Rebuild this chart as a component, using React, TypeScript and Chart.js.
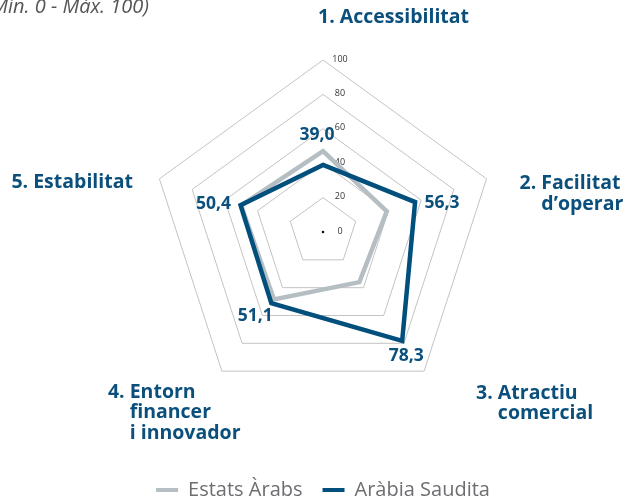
import React, { useEffect, useRef } from "react";
import { Chart, registerables } from "chart.js";

Chart.register(...registerables);

// ---- data ----
const categories = [
  "1. Accessibilitat",
  "2. Facilitat d’operar",
  "3. Atractiu comercial",
  "4. Entorn financer i innovador",
  "5. Estabilitat",
];
const categoryLines = [
  ["1. Accessibilitat"],
  ["2. Facilitat", "d’operar"],
  ["3. Atractiu", "comercial"],
  ["4. Entorn", "financer", "i innovador"],
  ["5. Estabilitat"],
];
const seriesNames = ["Estats Àrabs", "Aràbia Saudita"];
const estatsArabs = [47, 39, 36, 48.5, 50];
const arabiaSaudita = [39.0, 56.3, 78.3, 51.1, 50.4];
const valueLabels = ["39,0", "56,3", "78,3", "51,1", "50,4"];
const tickValues = [0, 20, 40, 60, 80, 100];
const subtitle = "(Mín. 0 - Máx. 100)";

// ---- styles ----
const DARK = "#004f7d";
const GRAY = "#b5bec3";
const LABEL_COLOR = "#0b4f7c";
const FONT = "'Open Sans', 'Noto Sans', sans-serif";

// offsets of category label (first line start, first line middle) from the axis vertex
const catOffsets = [
  [-5, -43],
  [33, 5],
  [52, 22],
  [-114, 21],
  [-148, 4],
];
// offsets of value labels from the data point
const valOffsets = [
  [-6, -30],
  [27, 1],
  [4, 15],
  [-16, 13],
  [-27, -1],
];

const overlay = {
  id: "overlay",
  beforeDatasetsDraw(chart: any) {
    const scale = chart.scales.r;
    const ctx = chart.ctx as CanvasRenderingContext2D;
    ctx.save();
    ctx.font = `9px ${FONT}`;
    ctx.fillStyle = "#333333";
    ctx.textAlign = "center";
    ctx.textBaseline = "middle";
    tickValues.forEach((v) => {
      const r = scale.getDistanceFromCenterForValue(v);
      ctx.fillText(String(v), scale.xCenter + 17, scale.yCenter - r - 1);
    });
    ctx.beginPath();
    ctx.fillStyle = "#111111";
    ctx.arc(scale.xCenter, scale.yCenter, 1.3, 0, Math.PI * 2);
    ctx.fill();
    ctx.restore();
  },
  afterDatasetsDraw(chart: any) {
    const scale = chart.scales.r;
    const ctx = chart.ctx as CanvasRenderingContext2D;
    ctx.save();
    // category labels with hanging indent
    ctx.font = `bold 19.5px ${FONT}`;
    ctx.fillStyle = LABEL_COLOR;
    ctx.textAlign = "left";
    ctx.textBaseline = "middle";
    categoryLines.forEach((lines, i) => {
      const p = scale.getPointPosition(i, scale.drawingArea);
      const x = p.x + catOffsets[i][0];
      const y = p.y + catOffsets[i][1];
      const prefix = lines[0].split(" ")[0] + " ";
      const indent = ctx.measureText(prefix).width;
      lines.forEach((line, j) => {
        ctx.fillText(line, j === 0 ? x : x + indent, y + j * 20.5);
      });
    });
    // value labels
    const meta = chart.getDatasetMeta(1);
    ctx.font = `bold 17.5px ${FONT}`;
    ctx.textAlign = "center";
    meta.data.forEach((el: any, i: number) => {
      ctx.fillText(valueLabels[i], el.x + valOffsets[i][0], el.y + valOffsets[i][1]);
    });
    // subtitle
    ctx.font = `italic 20px ${FONT}`;
    ctx.fillStyle = "#555555";
    ctx.textAlign = "right";
    ctx.textBaseline = "alphabetic";
    ctx.fillText(subtitle, 149, 13);
    ctx.restore();
  },
};

export default function App() {
  const ref = useRef<HTMLCanvasElement | null>(null);
  useEffect(() => {
    if (!ref.current) return;
    const chart = new Chart(ref.current, {
      type: "radar",
      data: {
        labels: categories,
        datasets: [
          {
            label: seriesNames[0],
            data: estatsArabs,
            borderColor: GRAY,
            backgroundColor: GRAY,
            borderWidth: 4.5,
            pointRadius: 0,
            pointHoverRadius: 0,
            fill: false,
            order: 2,
          },
          {
            label: seriesNames[1],
            data: arabiaSaudita,
            borderColor: DARK,
            backgroundColor: DARK,
            borderWidth: 4.5,
            pointRadius: 0,
            pointHoverRadius: 0,
            fill: false,
            order: 1,
          },
        ],
      },
      options: {
        animation: false,
        responsive: false,
        maintainAspectRatio: false,
        layout: { padding: { left: 15, right: 0, top: 60, bottom: -8 } },
        scales: {
          r: {
            min: 0,
            max: 100,
            ticks: { stepSize: 20, display: false },
            grid: { circular: false, color: "#c3c3c3", lineWidth: 1 },
            angleLines: { display: false },
            pointLabels: { display: false },
          },
        },
        plugins: {
          tooltip: { enabled: false },
          legend: {
            position: "bottom",
            title: {
              display: true,
              text: "",
              font: { size: 12 },
              padding: { top: 0, bottom: 41.6 },
            },
            labels: {
              boxWidth: 22,
              boxHeight: 4,
              padding: 20,
              color: "#6d6e71",
              font: { family: FONT, size: 20 },
              sort: (a: any, b: any) => a.datasetIndex - b.datasetIndex,
              generateLabels: (c: any) =>
                (Chart.defaults.plugins.legend.labels as any)
                  .generateLabels(c)
                  .map((l: any) => ({ ...l, fillStyle: l.strokeStyle, lineWidth: 0 })),
            },
          },
        },
      },
      plugins: [overlay],
    });
    return () => chart.destroy();
  }, []);
  return (
    <div style={{ position: "absolute", left: 0, top: 0, width: 631, height: 502 }}>
      <canvas ref={ref} width={631} height={502} style={{ width: 631, height: 502, display: "block" }} />
    </div>
  );
}
